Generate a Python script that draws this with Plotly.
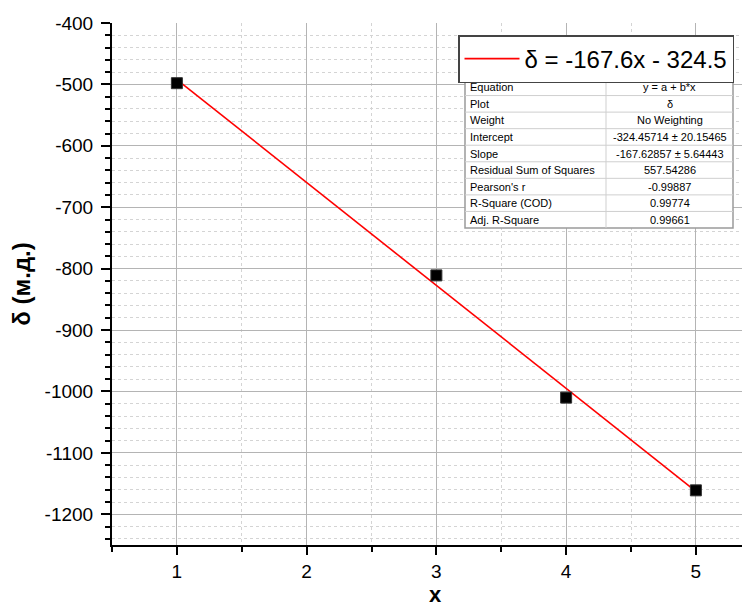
import plotly.graph_objects as go

# ---- data ----
x_vals = [1, 3, 4, 5]
delta_vals = [-498, -811, -1010, -1161]

fit_intercept = -324.45714
fit_slope = -167.62857
fit_x = [1, 5]
legend_label = "δ = -167.6x - 324.5"

x_ticks = [1, 2, 3, 4, 5]
y_ticks = [-400, -500, -600, -700, -800, -900, -1000, -1100, -1200]
y_ticktext = ["-400", "-500", "-600", "-700", "-800", "-900", "-1000", "-1100", "-1200"]

table_labels = ["Equation", "Plot", "Weight", "Intercept", "Slope",
                "Residual Sum of Squares", "Pearson's r", "R-Square (COD)", "Adj. R-Square"]
table_values = ["y = a + b*x", "δ", "No Weighting", "-324.45714 ± 20.15465",
                "-167.62857 ± 5.64443", "557.54286", "-0.99887", "0.99774", "0.99661"]

fit_y = [fit_intercept + fit_slope * xv for xv in fit_x]

FONT = "Liberation Sans, Arial, sans-serif"

# page has an 8px body margin; figure coordinates = screen - 8
OFF = 8
W, H = 750, 599
L, T, B, R = 104, 15, 537, 750
pw, ph = R - L, B - T


def px(sx):
    return (sx - OFF - L) / pw


def py(sy):
    return 1 - (sy - OFF - T) / ph


fig = go.Figure()

fig.add_trace(go.Scatter(
    x=fit_x, y=fit_y, mode="lines",
    line=dict(color="#ff0000", width=1.6),
    name=legend_label, showlegend=True,
))

fig.add_trace(go.Scatter(
    x=x_vals, y=delta_vals, mode="markers",
    marker=dict(symbol="square", size=11, color="black",
                line=dict(color="#333333", width=1)),
    showlegend=False, name="δ",
))

# ---- fit statistics table (screen coords) ----
tx0, tx1, ty0, ty1, tdiv = 465, 733, 79, 228, 606
nrows = len(table_labels)
rh = (ty1 - ty0) / nrows
shapes = [dict(type="rect", xref="paper", yref="paper",
               x0=px(tx0), x1=px(tx1), y0=py(ty1), y1=py(ty0),
               fillcolor="white", line=dict(color="#9a9a9a", width=1.5), layer="above")]
for i in range(1, nrows):
    yy = py(ty0 + i * rh)
    shapes.append(dict(type="line", xref="paper", yref="paper",
                       x0=px(tx0), x1=px(tx1), y0=yy, y1=yy,
                       line=dict(color="#cfcfcf", width=1), layer="above"))
shapes.append(dict(type="line", xref="paper", yref="paper",
                   x0=px(tdiv), x1=px(tdiv), y0=py(ty1), y1=py(ty0),
                   line=dict(color="#cfcfcf", width=1), layer="above"))

annotations = []
for i, (lab, val) in enumerate(zip(table_labels, table_values)):
    yc = py(ty0 + (i + 0.5) * rh)
    annotations.append(dict(xref="paper", yref="paper", x=px(tx0 + 3), y=yc,
                            xanchor="left", yanchor="middle", text=lab, showarrow=False,
                            font=dict(family=FONT, size=11, color="black")))
    annotations.append(dict(xref="paper", yref="paper", x=px((tdiv + tx1) / 2), y=yc,
                            xanchor="center", yanchor="middle", text=val, showarrow=False,
                            font=dict(family=FONT, size=11, color="black")))

fig.update_layout(
    width=W, height=H,
    margin=dict(l=L, r=W - R, t=T, b=H - B, autoexpand=False),
    paper_bgcolor="white", plot_bgcolor="white",
    font=dict(family=FONT, color="black"),
    showlegend=True,
    shapes=shapes,
    annotations=annotations,
    legend=dict(
        x=px(458), y=py(35), xanchor="left", yanchor="top",
        bgcolor="white", bordercolor="#444444", borderwidth=1.5,
        font=dict(family=FONT, size=24, color="black"),
        itemwidth=55, tracegroupgap=0,
    ),
    xaxis=dict(
        range=[0.5, 0.5 + pw / 129.75],
        tickmode="array", tickvals=x_ticks,
        showline=True, linecolor="black", linewidth=2,
        ticks="outside", ticklen=8, tickwidth=2, tickcolor="black",
        tickfont=dict(size=19, family=FONT),
        showgrid=True, gridcolor="#b4b4b4", gridwidth=1,
        zeroline=False, mirror=False, automargin=False,
        minor=dict(tickvals=[0.5, 1.5, 2.5, 3.5, 4.5], ticks="outside", ticklen=5,
                   tickwidth=2, tickcolor="black",
                   showgrid=True, gridcolor="#d4d4d4", griddash="3px,3px", gridwidth=1),
        title=dict(text="<b>x</b>", font=dict(size=22, family=FONT), standoff=12),
    ),
    yaxis=dict(
        range=[-1250, -400],
        tickmode="array", tickvals=y_ticks, ticktext=y_ticktext,
        showline=True, linecolor="black", linewidth=2,
        ticks="outside", ticklen=9, tickwidth=2, tickcolor="black",
        tickfont=dict(size=19, family=FONT), ticklabelstandoff=4,
        showgrid=True, gridcolor="#b4b4b4", gridwidth=1,
        zeroline=False, mirror=False, automargin=False,
        minor=dict(dtick=20, tick0=-400, ticks="outside", ticklen=5,
                   tickwidth=2, tickcolor="black",
                   showgrid=True, gridcolor="#d4d4d4", griddash="3px,3px", gridwidth=1),
        title=dict(text="<b>δ (м.д.)</b>", font=dict(size=24, family=FONT), standoff=12),
    ),
)

fig.write_html("out.html")
